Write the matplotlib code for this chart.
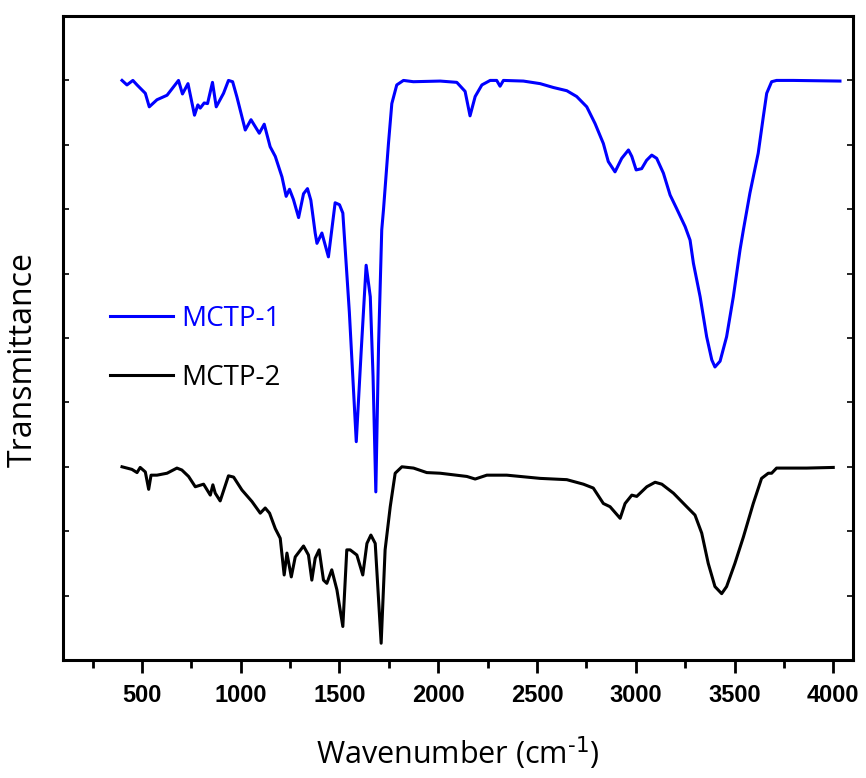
import numpy as np
import matplotlib
matplotlib.use('Agg')
from matplotlib import pyplot as plt
from matplotlib.ticker import MultipleLocator

# MCTP-1 (blue) spectrum
wn1 = [399, 424, 454, 475, 517, 537, 576, 627, 685, 705, 733, 766, 783, 795, 815, 832,
       857, 876, 913, 938, 959, 981, 1023, 1052, 1094, 1119, 1149, 1175, 1209, 1230,
       1247, 1267, 1293, 1318, 1338, 1355, 1377, 1386, 1411, 1444, 1478, 1500, 1517,
       1550, 1585, 1610, 1635, 1656, 1670, 1684, 1698, 1714, 1723, 1748, 1765, 1790,
       1824, 1874, 2010, 2094, 2136, 2161, 2187, 2221, 2263, 2296, 2313, 2330, 2431,
       2516, 2583, 2651, 2701, 2752, 2794, 2836, 2861, 2895, 2929, 2963, 2980, 3002,
       3030, 3055, 3081, 3106, 3140, 3174, 3207, 3250, 3275, 3292, 3326, 3359, 3385,
       3401, 3427, 3460, 3494, 3528, 3545, 3578, 3620, 3646, 3663, 3688, 3713, 3797, 4034]
t1 = [9.0, 8.93, 9.0, 8.93, 8.80, 8.59, 8.70, 8.77, 9.0, 8.79, 8.95, 8.46, 8.62, 8.57, 8.65, 8.64,
      8.97, 8.59, 8.80, 9.0, 8.98, 8.74, 8.23, 8.39, 8.18, 8.32, 7.97, 7.82, 7.50, 7.20,
      7.31, 7.15, 6.87, 7.24, 7.32, 7.14, 6.63, 6.47, 6.63, 6.26, 7.10, 7.07, 6.94,
      5.40, 3.39, 4.80, 6.13, 5.64, 4.40, 2.61, 4.90, 6.68, 7.00, 8.02, 8.64, 8.93,
      9.0, 8.98, 8.99, 8.97, 8.83, 8.45, 8.75, 8.93, 9.0, 9.0, 8.91, 9.0, 8.99,
      8.95, 8.89, 8.84, 8.75, 8.59, 8.33, 8.02, 7.74, 7.58, 7.79, 7.92, 7.82, 7.61,
      7.63, 7.76, 7.84, 7.79, 7.56, 7.22, 7.01, 6.73, 6.52, 6.16, 5.64, 5.02, 4.66,
      4.55, 4.64, 5.02, 5.64, 6.37, 6.68, 7.25, 7.87, 8.44, 8.80, 8.98, 9.0, 9.0, 8.99]

# MCTP-2 (black) spectrum
wn2 = [399, 449, 475, 491, 517, 534, 546, 576, 627, 677, 702, 736, 770, 812, 846, 859,
       871, 896, 938, 964, 1006, 1057, 1099, 1124, 1146, 1175, 1200, 1220, 1234, 1256,
       1276, 1318, 1343, 1360, 1377, 1397, 1419, 1436, 1461, 1487, 1517, 1537, 1554,
       1588, 1618, 1639, 1659, 1681, 1711, 1731, 1757, 1782, 1816, 1875, 1942, 2010,
       2145, 2187, 2246, 2347, 2516, 2651, 2735, 2785, 2836, 2870, 2921, 2946, 2980,
       3005, 3056, 3098, 3132, 3191, 3258, 3300, 3334, 3367, 3401, 3435, 3460, 3502,
       3545, 3595, 3637, 3671, 3688, 3713, 3865, 4000]
t2 = [3.0, 2.96, 2.91, 2.99, 2.92, 2.65, 2.87, 2.87, 2.90, 2.98, 2.95, 2.85, 2.69, 2.73, 2.56, 2.72,
      2.59, 2.47, 2.86, 2.84, 2.64, 2.46, 2.28, 2.36, 2.28, 2.04, 1.89, 1.32, 1.66, 1.29,
      1.60, 1.77, 1.63, 1.24, 1.58, 1.71, 1.24, 1.19, 1.40, 1.09, 0.52, 1.71, 1.71,
      1.63, 1.32, 1.81, 1.94, 1.81, 0.26, 1.71, 2.38, 2.90, 3.0, 2.98, 2.91, 2.90,
      2.85, 2.81, 2.87, 2.87, 2.82, 2.80, 2.73, 2.67, 2.43, 2.38, 2.20, 2.43, 2.56,
      2.54, 2.69, 2.76, 2.73, 2.59, 2.38, 2.25, 1.97, 1.50, 1.14, 1.03, 1.14, 1.50,
      1.91, 2.43, 2.82, 2.90, 2.90, 2.98, 2.98, 2.99]

labels = ['MCTP-1', 'MCTP-2']
xticks = [500, 1000, 1500, 2000, 2500, 3000, 3500, 4000]

fig = plt.figure(figsize=(8.66, 7.78), dpi=100)
ax = fig.add_axes([0.0727, 0.1517, 0.9123, 0.8277])

ax.plot(wn1, t1, color='#0000ff', lw=2.2, label=labels[0])
ax.plot(wn2, t2, color='black', lw=2.2, label=labels[1])

ax.set_xlim(100, 4100)
ax.set_ylim(0, 10)
ax.set_xticks(xticks)
ax.xaxis.set_minor_locator(MultipleLocator(250))
ax.yaxis.set_major_locator(MultipleLocator(1))
ax.set_yticklabels([])
for lab in ax.get_xticklabels():
    lab.set_fontfamily('Liberation Sans')
    lab.set_fontweight('bold')
    lab.set_fontsize(17)

ax.tick_params(axis='x', which='major', direction='out', length=9, width=2, pad=8)
ax.tick_params(axis='x', which='minor', direction='out', length=6, width=2)
ax.tick_params(axis='y', direction='in', length=4, width=1.2, left=True, right=True)
for s in ax.spines.values():
    s.set_linewidth(2.2)

ax.set_xlabel('Wavenumber (cm$^{\\text{-1}}$)', fontfamily='Open Sans',
              fontsize=22, labelpad=20)
ax.set_ylabel('Transmittance', fontfamily='Open Sans', fontsize=23)
ax.yaxis.set_label_coords(-0.03, 0.466)

leg = ax.legend(loc='upper left', bbox_to_anchor=(0.028, 0.59), frameon=False,
                prop={'family': 'Open Sans', 'size': 20}, handlelength=2.25,
                handletextpad=0.3, labelspacing=1.1, labelcolor='linecolor')

plt.savefig('out.png', dpi=100)
